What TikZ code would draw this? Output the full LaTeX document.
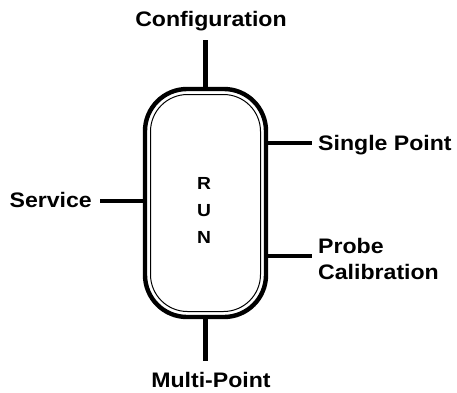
\documentclass[tikz,border=0pt]{standalone}
\usepackage{fontspec}
\setmainfont{Liberation Sans}[FakeStretch=1.1]
\usetikzlibrary{positioning}

\begin{document}
\begin{tikzpicture}[
    x=1pt, y=-1pt,
    mode/.style={draw=black, line width=4.4pt, rounded corners=42pt, minimum width=121pt, minimum height=228pt, inner sep=0pt, outer sep=0pt},
    link/.style={draw=black, line width=4.4pt},
    menu/.style={font=\fontsize{21}{26}\selectfont\bfseries, inner sep=0pt}
]
\useasboundingbox (0,0) rectangle (457,392);

% Run mode box (thick outline with thin inner line)
\node[mode] (run) at (205.5,203) {};
\draw[line width=1pt, rounded corners=37pt] ([xshift=5.5pt,yshift=-5.5pt]run.north west) rectangle ([xshift=-5.5pt,yshift=5.5pt]run.south east);
\node[font=\fontsize{17.5}{27}\selectfont\bfseries, align=center, inner sep=0pt] (runtext) at (204,210) {R\\U\\N};

% Free ends of the links
\coordinate[above=49pt of run.north] (cfgend);
\coordinate[below=44pt of run.south] (mpend);
\coordinate (spend) at (312,143);
\coordinate (pcend) at (312,256);
\coordinate (svend) at (100,201);

% Links
\draw[link] (run.north) -- (cfgend);
\draw[link] (run.south) -- (mpend);
\draw[link] (run.east |- spend) -- (spend);
\draw[link] (run.east |- pcend) -- (pcend);
\draw[link] (svend) -- (run.west |- svend);

% Menu labels
\node[menu, anchor=base] (cfg) at (211,26) {Configuration};
\node[menu, anchor=base] (mp) at (211,387) {Multi-Point};
\node[menu, anchor=base west] (sp) at (318,150) {Single Point};
\node[menu, anchor=north west, align=left] (pc) at (318,238) {Probe\\Calibration};
\node[menu, anchor=base east] (sv) at (92,207) {Service};

\end{tikzpicture}
\end{document}
